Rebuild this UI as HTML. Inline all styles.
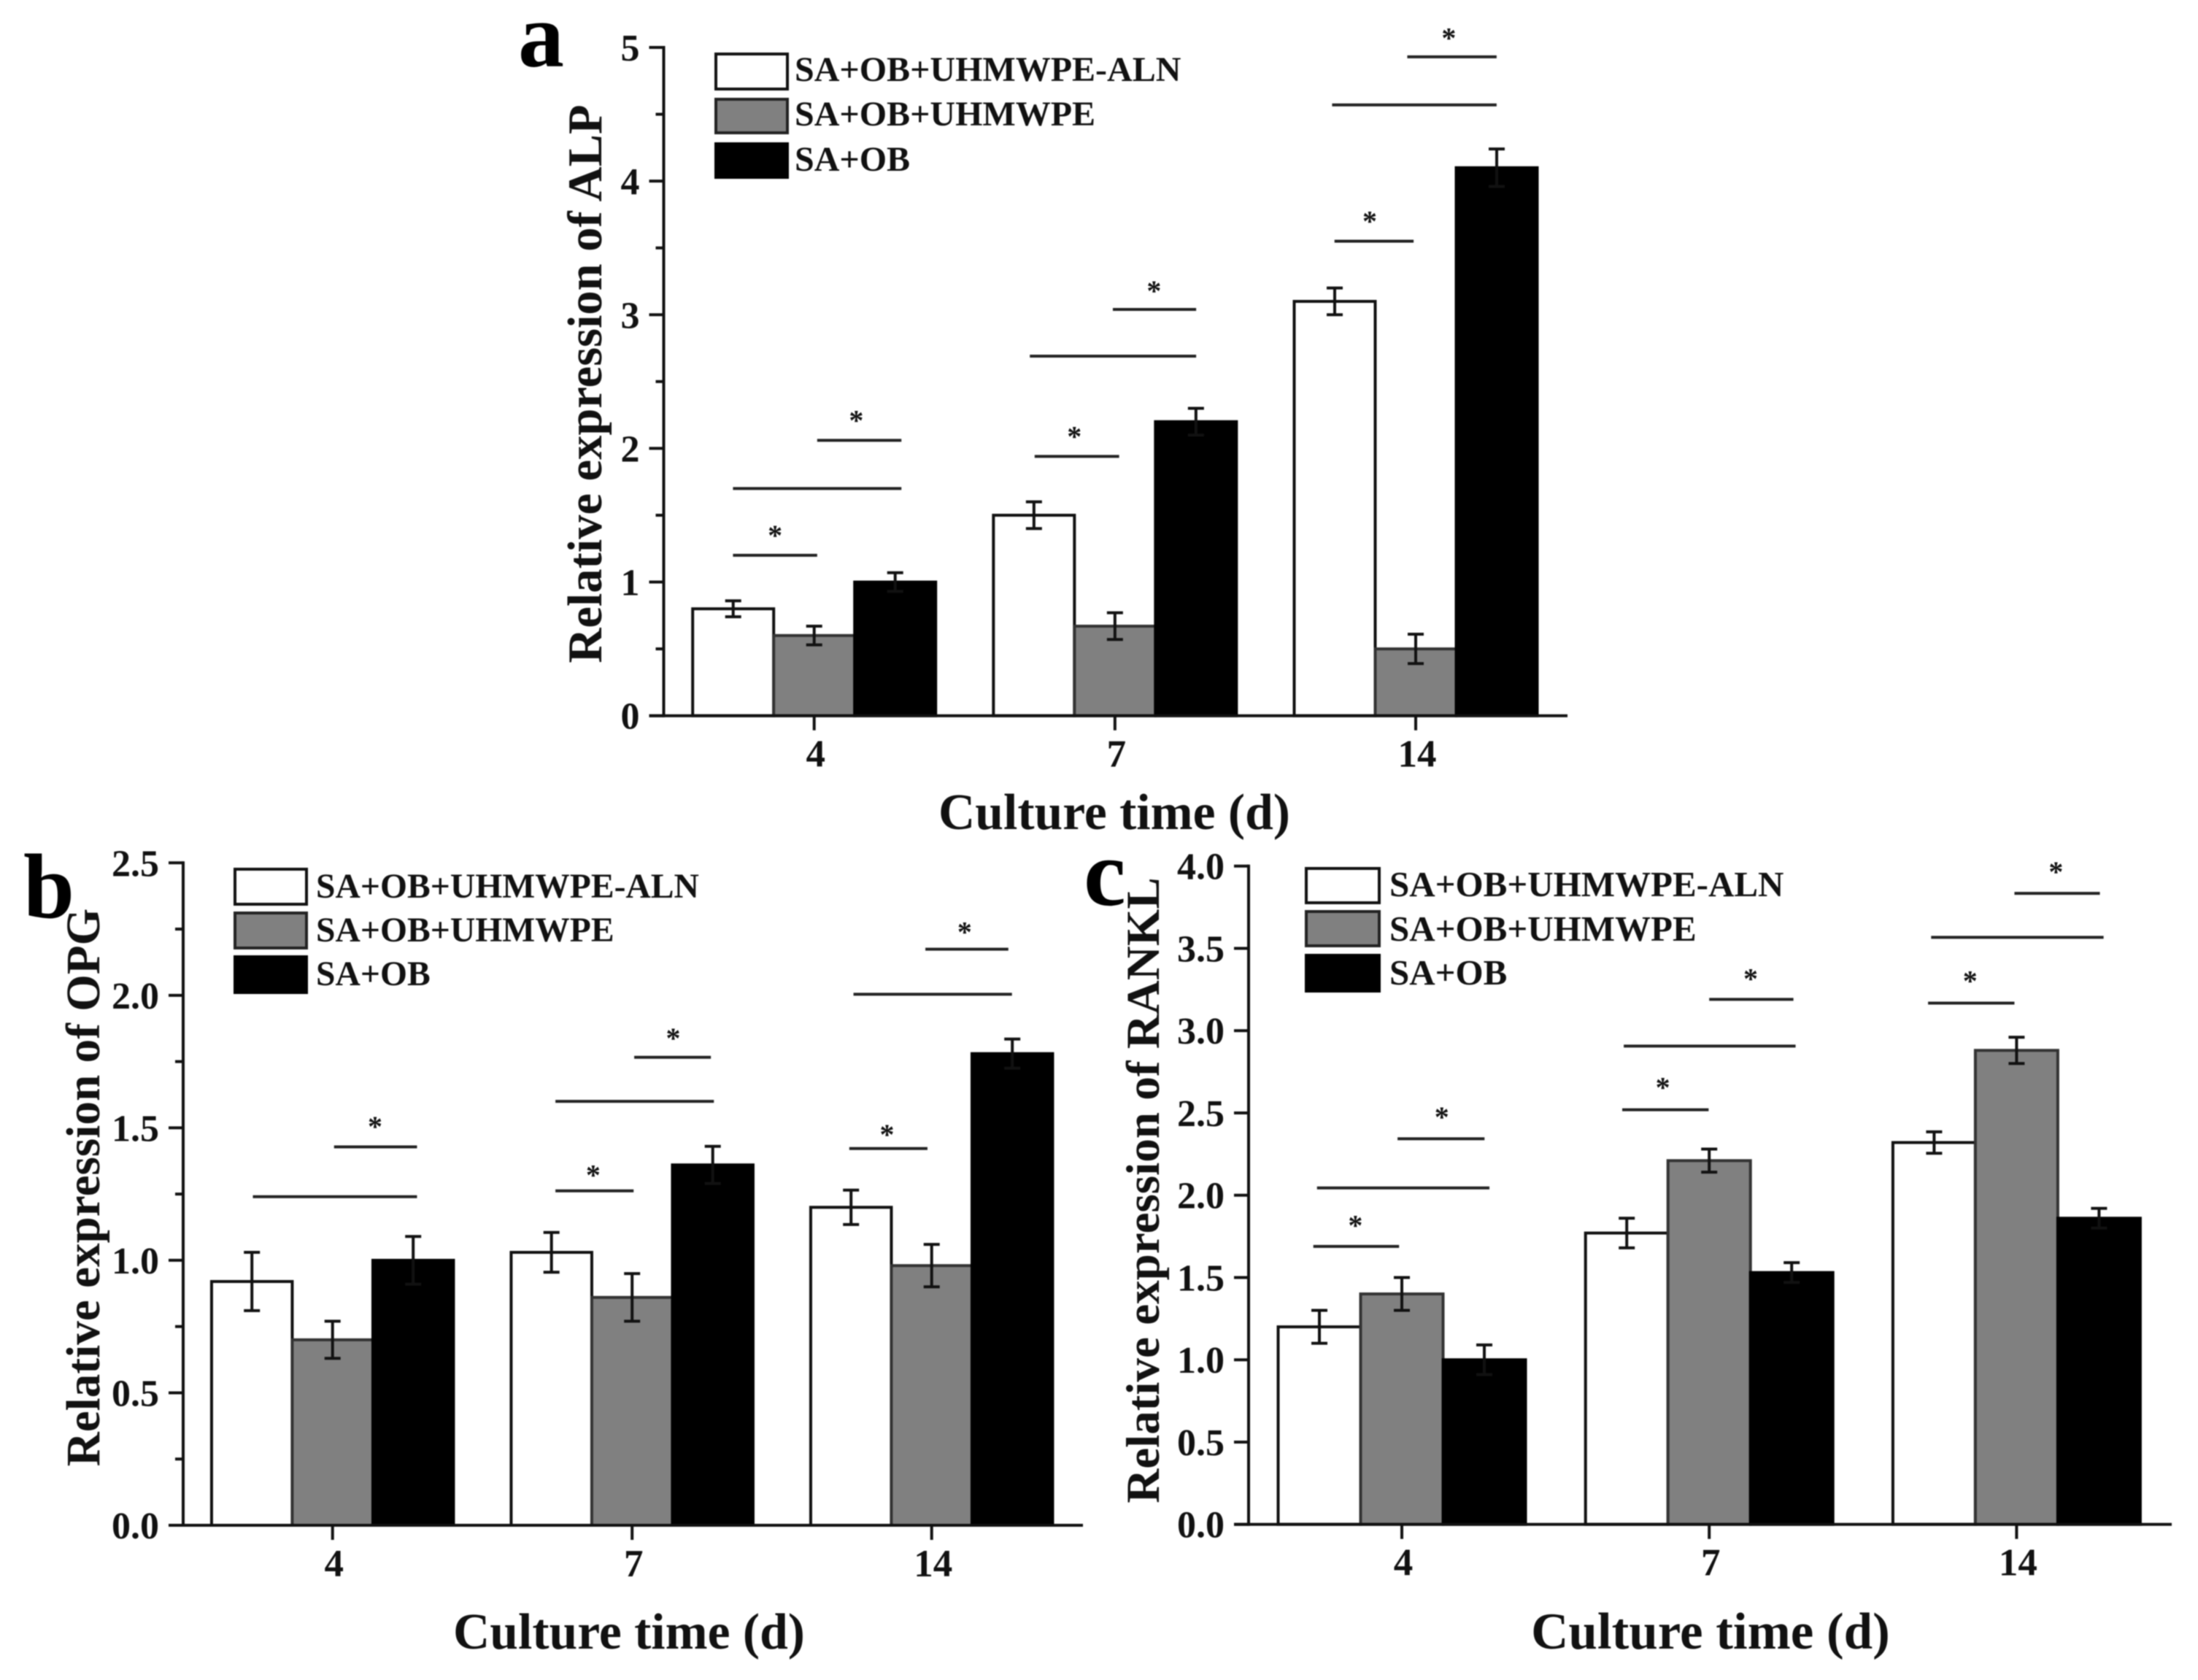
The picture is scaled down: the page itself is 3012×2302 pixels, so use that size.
<!DOCTYPE html>
<html>
<head>
<meta charset="utf-8">
<title>Relative expression of ALP, OPG and RANKL</title>
<style>
html,body{margin:0;padding:0;background:#fff;width:3012px;height:2302px;overflow:hidden}
svg{display:block;filter:blur(0.7px)}
text{font-family:"Liberation Serif",serif;font-weight:bold;fill:#111}
.xtitle{text-anchor:middle}
.letter{fill:#000}
</style>
</head>
<body>
<svg id="figure" xmlns="http://www.w3.org/2000/svg" width="3012" height="2302" viewBox="0 0 3012 2302">
  <rect width="3012" height="2302" fill="#fff"/>

  <g id="panel-a">
    <text class="letter" x="710" y="91" font-size="126">a</text>
    <text font-size="66.5" text-anchor="middle" transform="translate(824 526) rotate(-90)">Relative expression of ALP</text>
    <text class="xtitle" font-size="69.6" x="1527" y="1136">Culture time (d)</text>
    <g>
      <rect x="981" y="74" width="98" height="48" fill="#fff" stroke="#111" stroke-width="4"/>
      <text font-size="48" x="1089" y="111">SA+OB+UHMWPE-ALN</text>
      <rect x="981" y="136" width="98" height="46" fill="#808080" stroke="#222" stroke-width="4"/>
      <text font-size="48" x="1089" y="172">SA+OB+UHMWPE</text>
      <rect x="981" y="197" width="98" height="46" fill="#000" stroke="#000" stroke-width="4"/>
      <text font-size="48" x="1089" y="234">SA+OB</text>
    </g>
  </g>

  <g id="panel-b">
    <text class="letter" x="32" y="1257" font-size="126">b</text>
    <text font-size="65.2" text-anchor="middle" transform="translate(136 1627) rotate(-90)">Relative expression of OPG</text>
    <text class="xtitle" font-size="69.6" x="862" y="2259">Culture time (d)</text>
    <g>
      <rect x="322" y="1191" width="98" height="48" fill="#fff" stroke="#111" stroke-width="4"/>
      <text font-size="47.6" x="433" y="1230">SA+OB+UHMWPE-ALN</text>
      <rect x="322" y="1251" width="98" height="48" fill="#808080" stroke="#222" stroke-width="4"/>
      <text font-size="47.6" x="433" y="1290">SA+OB+UHMWPE</text>
      <rect x="322" y="1311" width="98" height="49" fill="#000" stroke="#000" stroke-width="4"/>
      <text font-size="47.6" x="433" y="1350">SA+OB</text>
    </g>
  </g>

  <g id="panel-c">
    <text class="letter" x="1485" y="1240" font-size="130">c</text>
    <text font-size="65.1" text-anchor="middle" transform="translate(1588 1631) rotate(-90)">Relative expression of RANKL</text>
    <text class="xtitle" font-size="71" x="2344" y="2259">Culture time (d)</text>
    <g>
      <rect x="1790" y="1190" width="100" height="47" fill="#fff" stroke="#111" stroke-width="4"/>
      <text font-size="49" x="1904" y="1228">SA+OB+UHMWPE-ALN</text>
      <rect x="1790" y="1249" width="100" height="47" fill="#808080" stroke="#222" stroke-width="4"/>
      <text font-size="49" x="1904" y="1289">SA+OB+UHMWPE</text>
      <rect x="1790" y="1309" width="100" height="49" fill="#000" stroke="#000" stroke-width="4"/>
      <text font-size="49" x="1904" y="1349">SA+OB</text>
    </g>
  </g>
</svg>

<script>
// Shared categories
const categories = ["4", "7", "14"];

// Panel a: ALP
const alpAln = [0.8, 1.5, 3.1];
const alpAlnErr = [0.06, 0.1, 0.1];
const alpUhmwpe = [0.6, 0.67, 0.5];
const alpUhmwpeErr = [0.07, 0.1, 0.11];
const alpControl = [1.0, 2.2, 4.1];
const alpControlErr = [0.07, 0.1, 0.14];
const alpMajorTicks = ["0", "1", "2", "3", "4", "5"];
const alpMinorTicks = [0.5, 1.5, 2.5, 3.5, 4.5];
const alpSigFrom = [-0.27, -0.27, 0.01, 0.733, 0.717, 0.993, 1.73, 1.722, 1.972];
const alpSigTo = [0.01, 0.29, 0.29, 1.014, 1.27, 1.27, 1.993, 2.269, 2.269];
const alpSigLevel = [1.2, 1.7, 2.06, 1.94, 2.69, 3.04, 3.55, 4.57, 4.93];
const alpStarCat = [-0.13, 0.14, 0.865, 1.13, 1.847, 2.11];
const alpStarLevel = [1.38, 2.24, 2.12, 3.21, 3.73, 5.1];

// Panel b: OPG
const opgAln = [0.92, 1.03, 1.2];
const opgAlnErr = [0.11, 0.075, 0.065];
const opgUhmwpe = [0.7, 0.86, 0.98];
const opgUhmwpeErr = [0.07, 0.09, 0.08];
const opgControl = [1.0, 1.36, 1.78];
const opgControlErr = [0.09, 0.07, 0.055];
const opgMajorTicks = ["0.0", "0.5", "1.0", "1.5", "2.0", "2.5"];
const opgMinorTicks = [0.25, 0.75, 1.25, 1.75, 2.25];
const opgSigFrom = [-0.266, 0.005, 0.744, 0.744, 1.007, 1.725, 1.739, 1.979];
const opgSigTo = [0.282, 0.282, 1.005, 1.273, 1.263, 1.986, 2.268, 2.256];
const opgSigLevel = [1.24, 1.428, 1.262, 1.6, 1.766, 1.422, 2.004, 2.174];
const opgStarCat = [0.142, 0.87, 1.137, 1.851, 2.11];
const opgStarLevel = [1.52, 1.337, 1.853, 1.49, 2.255];

// Panel c: RANKL
const ranklAln = [1.2, 1.77, 2.32];
const ranklAlnErr = [0.1, 0.09, 0.065];
const ranklUhmwpe = [1.4, 2.21, 2.88];
const ranklUhmwpeErr = [0.1, 0.07, 0.08];
const ranklControl = [1.0, 1.53, 1.86];
const ranklControlErr = [0.09, 0.06, 0.06];
const ranklMajorTicks = ["0.0", "0.5", "1.0", "1.5", "2.0", "2.5", "3.0", "3.5", "4.0"];
const ranklMinorTicks = [];
const ranklSigFrom = [-0.288, -0.276, -0.014, 0.717, 0.722, 1, 1.712, 1.722, 1.993];
const ranklSigTo = [-0.009, 0.285, 0.269, 0.998, 1.281, 1.274, 1.993, 2.283, 2.271];
const ranklSigLevel = [1.689, 2.044, 2.343, 2.519, 2.906, 3.19, 3.167, 3.567, 3.834];
const ranklStarCat = [-0.151, 0.13, 0.849, 1.135, 1.849, 2.128];
const ranklStarLevel = [1.842, 2.5, 2.679, 3.34, 3.326, 3.99];

const NS = "http://www.w3.org/2000/svg";
const seriesFills = ["#ffffff", "#808080", "#000000"];
const seriesStrokes = ["#111111", "#333333", "#000000"];
const seriesKeys = ["aln", "uhmwpe", "control"];

function mk(parent, tag, attrs) {
  const el = document.createElementNS(NS, tag);
  for (const k in attrs) el.setAttribute(k, attrs[k]);
  parent.appendChild(el);
  return el;
}

function drawPanel(panelId, layout, series, errors, majorLabels, minorTicks, sigFrom, sigTo, sigLevel, starCat, starLevel) {
  const g = document.getElementById(panelId);
  const top = Number(majorLabels[majorLabels.length - 1]);
  const yOf = v => layout.y0 - (v / top) * (layout.y0 - layout.yTop);
  const xOf = c => layout.x0 + layout.step * c;

  // bars and error bars
  series.forEach((vals, s) => {
    vals.forEach((v, i) => {
      const left = xOf(i) + (s - 1.5) * layout.barW;
      const bar = mk(g, "rect", {x: left, y: yOf(v), width: layout.barW, height: layout.y0 - yOf(v), fill: seriesFills[s], stroke: seriesStrokes[s], "stroke-width": 4});
      
      
      const cx = left + layout.barW / 2;
      const hi = yOf(v + errors[s][i]), lo = yOf(v - errors[s][i]);
      const err = mk(g, "path", {d: `M${cx - 11} ${hi}H${cx + 11}M${cx} ${hi}V${lo}M${cx - 11} ${lo}H${cx + 11}`, fill: "none", stroke: "#111", "stroke-width": 4});
      
      
    });
  });

  // axes
  const yAxis = mk(g, "line", {x1: layout.xAxis, x2: layout.xAxis, y1: layout.yTop - 2, y2: layout.y0 + 2, stroke: "#111", "stroke-width": 4});
  
  
  const xAxis = mk(g, "line", {x1: layout.xAxis - 20, x2: layout.xEnd, y1: layout.y0, y2: layout.y0, stroke: "#111", "stroke-width": 4});
  
  

  // y ticks
  majorLabels.forEach(lbl => {
    const y = yOf(Number(lbl));
    const t = mk(g, "line", {x1: layout.xAxis - 20, x2: layout.xAxis, y1: y, y2: y, stroke: "#111", "stroke-width": 4});
    
    
    const txt = mk(g, "text", {x: layout.xAxis - 33, y: y + 18, "text-anchor": "end", "font-size": 52});
    txt.textContent = lbl;
    
    
  });
  minorTicks.forEach(v => {
    const y = yOf(v);
    const t = mk(g, "line", {x1: layout.xAxis - 11, x2: layout.xAxis, y1: y, y2: y, stroke: "#111", "stroke-width": 4});
    
    
  });

  // x ticks
  categories.forEach((c, i) => {
    const x = xOf(i);
    const t = mk(g, "line", {x1: x, x2: x, y1: layout.y0, y2: layout.y0 + 20, stroke: "#111", "stroke-width": 4});
    
    
    const txt = mk(g, "text", {x: x + 2, y: layout.y0 + 70, "text-anchor": "middle", "font-size": 53});
    txt.textContent = c;
    
    
  });

  // significance lines
  sigLevel.forEach((lv, i) => {
    const l = mk(g, "line", {x1: xOf(sigFrom[i]), x2: xOf(sigTo[i]), y1: yOf(lv), y2: yOf(lv), stroke: "#222", "stroke-width": 4});
    
    
  });
  starLevel.forEach((lv, i) => {
    const st = mk(g, "text", {x: xOf(starCat[i]), y: yOf(lv) + 19, "text-anchor": "middle", "font-size": 40, fill: "#333"});
    st.textContent = "*";
    
    
  });
}

drawPanel("panel-a", {xAxis: 909.5, xEnd: 2148, y0: 980.7, yTop: 65, x0: 1115.7, step: 412.15, barW: 111},
  [alpAln, alpUhmwpe, alpControl], [alpAlnErr, alpUhmwpeErr, alpControlErr],
  alpMajorTicks, alpMinorTicks, alpSigFrom, alpSigTo, alpSigLevel, alpStarCat, alpStarLevel);

drawPanel("panel-b", {xAxis: 251, xEnd: 1484, y0: 2090, yTop: 1182.3, x0: 455.7, step: 410.5, barW: 110.5},
  [opgAln, opgUhmwpe, opgControl], [opgAlnErr, opgUhmwpeErr, opgControlErr],
  opgMajorTicks, opgMinorTicks, opgSigFrom, opgSigTo, opgSigLevel, opgStarCat, opgStarLevel);

drawPanel("panel-c", {xAxis: 1711, xEnd: 2976, y0: 2088.7, yTop: 1186.7, x0: 1921, step: 421.2, barW: 113},
  [ranklAln, ranklUhmwpe, ranklControl], [ranklAlnErr, ranklUhmwpeErr, ranklControlErr],
  ranklMajorTicks, ranklMinorTicks, ranklSigFrom, ranklSigTo, ranklSigLevel, ranklStarCat, ranklStarLevel);
</script>
</body>
</html>
